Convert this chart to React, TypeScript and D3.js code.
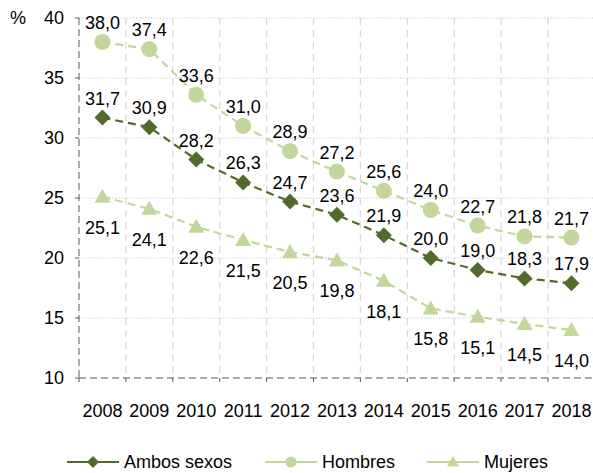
import React from 'react';
import * as d3 from 'd3';

const years = ['2008', '2009', '2010', '2011', '2012', '2013', '2014', '2015', '2016', '2017', '2018'];
const ambos = [31.7, 30.9, 28.2, 26.3, 24.7, 23.6, 21.9, 20.0, 19.0, 18.3, 17.9];
const hombres = [38.0, 37.4, 33.6, 31.0, 28.9, 27.2, 25.6, 24.0, 22.7, 21.8, 21.7];
const mujeres = [25.1, 24.1, 22.6, 21.5, 20.5, 19.8, 18.1, 15.8, 15.1, 14.5, 14.0];
const yTicks = [10, 15, 20, 25, 30, 35, 40];

const dark = '#536b2a';
const light = '#c3d69b';
const font = 'Arial, "Liberation Sans", sans-serif';
const fs = 18;

const fmt = (v: number) => v.toFixed(1).replace('.', ',');

const App = () => {
  const left = 79;
  const bw = 46.9;
  const x = d3.scaleBand().domain(years).range([left, left + bw * years.length]);
  const y = d3.scaleLinear().domain([10, 40]).range([378, 18]);
  const cx = (yr: string) => (x(yr) as number) + x.bandwidth() / 2;

  const line = d3.line<number>()
    .x((d, i) => cx(years[i]))
    .y(d => y(d));

  const series = [
    { name: 'Ambos sexos', data: ambos, color: dark, marker: 'diamond', labelDy: -13 },
    { name: 'Hombres', data: hombres, color: light, marker: 'circle', labelDy: -13 },
    { name: 'Mujeres', data: mujeres, color: light, marker: 'triangle', labelDy: 37 },
  ];

  const marker = (kind: string, px: number, py: number, color: string, s: number, key?: any) => {
    if (kind === 'circle') return <circle key={key} cx={px} cy={py} r={s} fill={color} />;
    if (kind === 'diamond') {
      return <path key={key} d={`M${px},${py - s}L${px + s},${py}L${px},${py + s}L${px - s},${py}Z`} fill={color} />;
    }
    return <path key={key} d={`M${px},${py - s}L${px + s},${py + s * 0.75}L${px - s},${py + s * 0.75}Z`} fill={color} />;
  };

  const legendX = [67, 265, 427];

  return (
    <svg width={593} height={473} style={{ position: 'absolute', left: 0, top: 0 }} fontFamily={font}>
      <rect width={593} height={473} fill="#fff" />
      {/* horizontal grid */}
      {yTicks.filter(t => t > 10).map(t => (
        <line key={'h' + t} x1={left} x2={593} y1={y(t)} y2={y(t)} stroke="#d0d0d0" strokeDasharray="1.5,1.5" />
      ))}
      {/* vertical grid */}
      {years.slice(1).map(yr => (
        <line key={'v' + yr} x1={x(yr)} x2={x(yr)} y1={y(40)} y2={y(10)} stroke="#d9d9d9" strokeWidth={1.3} strokeDasharray="7,5" />
      ))}
      {/* y axis */}
      <line x1={left} x2={left} y1={y(40)} y2={y(10)} stroke="#595959" strokeWidth={1} strokeDasharray="7,4" />
      {yTicks.map(t => (
        <g key={'yt' + t}>
          <line x1={left - 4} x2={left} y1={y(t)} y2={y(t)} stroke="#595959" />
          <text x={64} y={y(t) + 6} textAnchor="end" fontSize={fs} fill="#000">{t}</text>
        </g>
      ))}
      <text x={10} y={24} fontSize={fs} fill="#000">%</text>
      {/* x axis */}
      <line x1={left} x2={593} y1={y(10)} y2={y(10)} stroke="#595959" strokeDasharray="7,4" />
      {years.map(yr => (
        <g key={'xt' + yr}>
          <line x1={x(yr)} x2={x(yr)} y1={y(10)} y2={y(10) + 4} stroke="#595959" />
          <text x={cx(yr)} y={417} textAnchor="middle" fontSize={fs} fill="#000">{yr}</text>
        </g>
      ))}
      {/* series */}
      {series.map(s => (
        <g key={s.name}>
          <path d={line(s.data) as string} fill="none" stroke={s.color} strokeWidth={2.2} strokeDasharray="8,5" />
          {s.data.map((v, i) => marker(s.marker, cx(years[i]), y(v), s.color, 8, i))}
          {s.data.map((v, i) => (
            <text key={'l' + i} x={cx(years[i])} y={y(v) + s.labelDy} textAnchor="middle" fontSize={fs} fill="#000">{fmt(v)}</text>
          ))}
        </g>
      ))}
      {/* legend */}
      {series.map((s, i) => (
        <g key={'lg' + s.name}>
          <line x1={legendX[i]} x2={legendX[i] + 52} y1={462} y2={462} stroke={s.color} strokeWidth={2.2} />
          {marker(s.marker, legendX[i] + 26, 462, s.color, s.marker === 'circle' ? 5.5 : 6)}
          <text x={legendX[i] + 57} y={468} fontSize={fs} fill="#000">{s.name}</text>
        </g>
      ))}
    </svg>
  );
};

export default App;
